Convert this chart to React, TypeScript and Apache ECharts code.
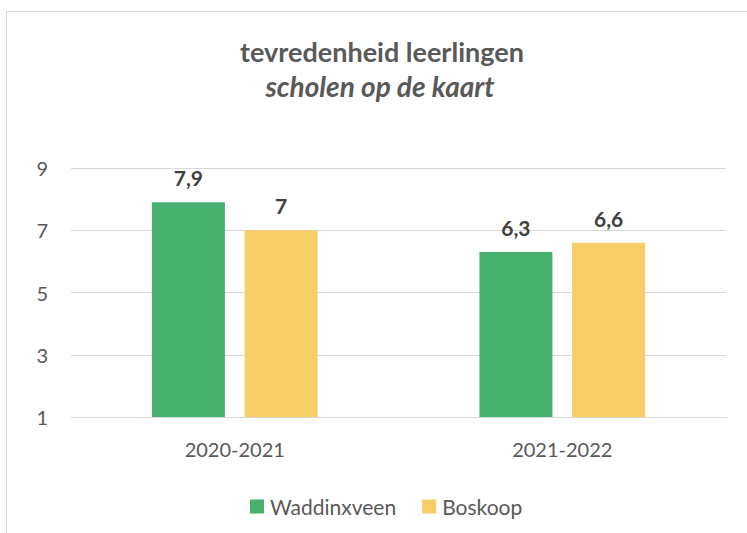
import React, { useEffect, useRef } from "react";
import * as echarts from "echarts";

const categories = ["2020-2021", "2021-2022"];
const waddinxveen = [7.9, 6.3];
const boskoop = [7, 6.6];
const seriesNames = ["Waddinxveen", "Boskoop"];
const titleText = "tevredenheid leerlingen";
const subtitleText = "scholen op de kaart";

const FONT = "Lato, 'Open Sans', sans-serif";

export default function App() {
  const ref = useRef<HTMLDivElement>(null);
  useEffect(() => {
    if (!ref.current) return;
    const chart = echarts.init(ref.current, undefined, { renderer: "svg" });
    const labelCfg = {
      show: true,
      position: "top",
      distance: 14,
      color: "#404040",
      fontSize: 21,
      fontWeight: "bold",
      fontFamily: FONT,
      formatter: (p: any) => String(p.value).replace(".", ","),
    };
    chart.setOption({
      animation: false,
      backgroundColor: "#ffffff",
      textStyle: { fontFamily: FONT },
      graphic: [
        {
          type: "rect",
          shape: { x: 6.5, y: 11.5, width: 800, height: 600 },
          style: { fill: "none", stroke: "#d9d9d9", lineWidth: 1 },
          silent: true,
        },
        {
          type: "text",
          x: 382,
          y: 51,
          style: {
            text: titleText,
            fontSize: 27,
            fontWeight: "bold",
            fill: "#595959",
            fontFamily: FONT,
            align: "center",
            verticalAlign: "middle",
          },
        },
        {
          type: "text",
          x: 380,
          y: 86,
          style: {
            text: subtitleText,
            fontSize: 28,
            fontWeight: "bold",
            fontStyle: "italic",
            fill: "#595959",
            fontFamily: FONT,
            align: "center",
            verticalAlign: "middle",
          },
        },
      ],
      legend: {
        top: 491,
        left: 245,
        itemWidth: 14,
        itemHeight: 14,
        itemGap: 26,
        icon: "rect",
        textStyle: { color: "#595959", fontSize: 21, fontFamily: FONT, padding: [0, 0, 0, 1] },
        data: seriesNames,
      },
      grid: { left: 71, right: 21, top: 168, bottom: 116 },
      xAxis: {
        type: "category",
        data: categories,
        axisLine: { show: true, lineStyle: { color: "#d9d9d9" } },
        axisTick: { show: false },
        axisLabel: { color: "#595959", fontSize: 20, margin: 22, fontFamily: FONT },
      },
      yAxis: {
        type: "value",
        min: 1,
        max: 9,
        interval: 2,
        axisLine: { show: false },
        axisTick: { show: false },
        splitLine: { lineStyle: { color: "#d9d9d9", width: 1 } },
        axisLabel: { color: "#595959", fontSize: 20, margin: 23, fontFamily: FONT },
      },
      series: [
        {
          name: seriesNames[0],
          type: "bar",
          data: waddinxveen,
          barWidth: 73,
          barGap: "27%",
          itemStyle: { color: "#48B06E" },
          label: labelCfg,
        },
        {
          name: seriesNames[1],
          type: "bar",
          data: boskoop,
          barWidth: 73,
          itemStyle: { color: "#F7CE66" },
          label: labelCfg,
        },
      ],
    });
    return () => chart.dispose();
  }, []);
  return (
    <div
      ref={ref}
      style={{ position: "fixed", left: 0, top: 0, width: 747, height: 533 }}
    />
  );
}
